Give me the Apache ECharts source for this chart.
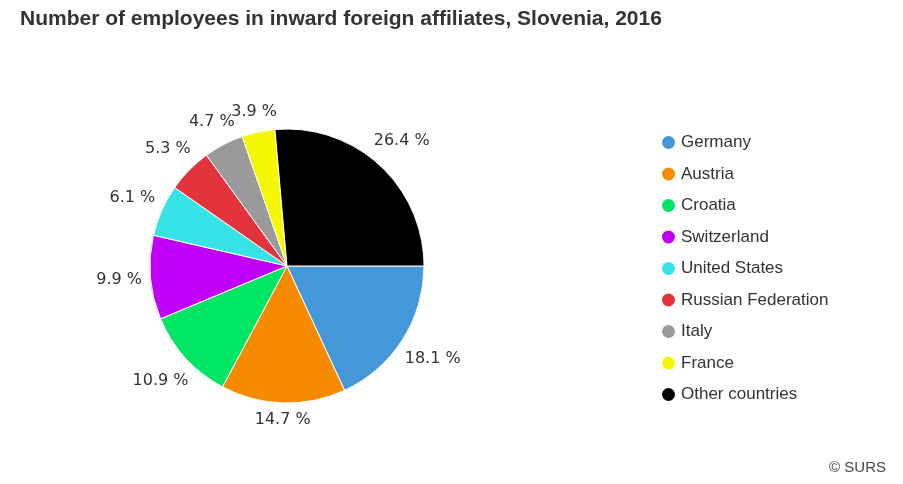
<!DOCTYPE html>
<html>
<head>
<meta charset="utf-8">
<title>Employees in inward foreign affiliates, Slovenia, 2016</title>
<script src="https://cdn.jsdelivr.net/npm/echarts@6/dist/echarts.min.js"></script>
<style>
  html, body { margin: 0; padding: 0; background: #fff; }
  #chart { width: 903px; height: 484px; }
</style>
</head>
<body>
<div id="chart"></div>
<script>
// data
var countries = ["Germany", "Austria", "Croatia", "Switzerland", "United States",
                 "Russian Federation", "Italy", "France", "Other countries"];
var shares = [18.1, 14.7, 10.9, 9.9, 6.1, 5.3, 4.7, 3.9, 26.4];
var colors = ["#4497d9", "#f78b00", "#00e564", "#c100f8", "#38e3e8",
              "#e3343b", "#9a9a9a", "#f5f800", "#000000"];

var pieCenter = [287, 266];
var pieRadius = 137;
var labelGap = 8;

var myChart = echarts.init(document.getElementById("chart"));

var option = {
    backgroundColor: "#fff",
    animation: false,
    color: colors,
    title: [{
        text: "Number of employees in inward foreign affiliates, Slovenia, 2016",
        left: 15,
        top: 4,
        textStyle: {
            fontFamily: "Liberation Sans",
            fontSize: 21,
            fontWeight: "bold",
            color: "#333"
        }
    }, {
        text: "\u00a9 SURS",
        right: 12,
        top: 455,
        textStyle: {
            fontFamily: "Liberation Sans",
            fontSize: 15,
            fontWeight: "normal",
            color: "#444"
        }
    }],
    legend: {
        orient: "vertical",
        left: 655,
        top: 129,
        icon: "circle",
        itemWidth: 15,
        itemHeight: 15,
        itemGap: 14.5,
        data: countries,
        textStyle: {
            fontFamily: "Liberation Sans",
            fontSize: 17,
            color: "#333"
        }
    },
    series: [{
        type: "pie",
        center: pieCenter,
        radius: [0, pieRadius],
        startAngle: 0,
        clockwise: true,
        avoidLabelOverlap: false,
        itemStyle: {
            borderColor: "#fff",
            borderWidth: 1
        },
        label: {
            show: true,
            position: "inside",
            color: "#333",
            fontFamily: "DejaVu Sans",
            fontSize: 16,
            formatter: function (p) {
                return p.value.toFixed(1) + " %";
            }
        },
        // push each label out of the pie, just past the rim
        labelLayout: function (params) {
            var r = params.labelRect;
            var lx = r.x + r.width / 2, ly = r.y + r.height / 2;
            var dx = lx - pieCenter[0], dy = ly - pieCenter[1];
            var len = Math.sqrt(dx * dx + dy * dy) || 1;
            dx /= len; dy /= len;
            var dist = pieRadius + labelGap + Math.abs(dx) * r.width / 2 + Math.abs(dy) * r.height / 2;
            return {
                x: pieCenter[0] + dx * dist,
                y: pieCenter[1] + dy * dist,
                align: "center",
                verticalAlign: "middle"
            };
        },
        labelLine: { show: false },
        emphasis: { scale: false },
        data: countries.map(function (name, i) {
            return { name: name, value: shares[i] };
        })
    }]
};

myChart.setOption(option);
window.addEventListener("resize", function () {
    myChart.resize();
});
</script>
</body>
</html>
